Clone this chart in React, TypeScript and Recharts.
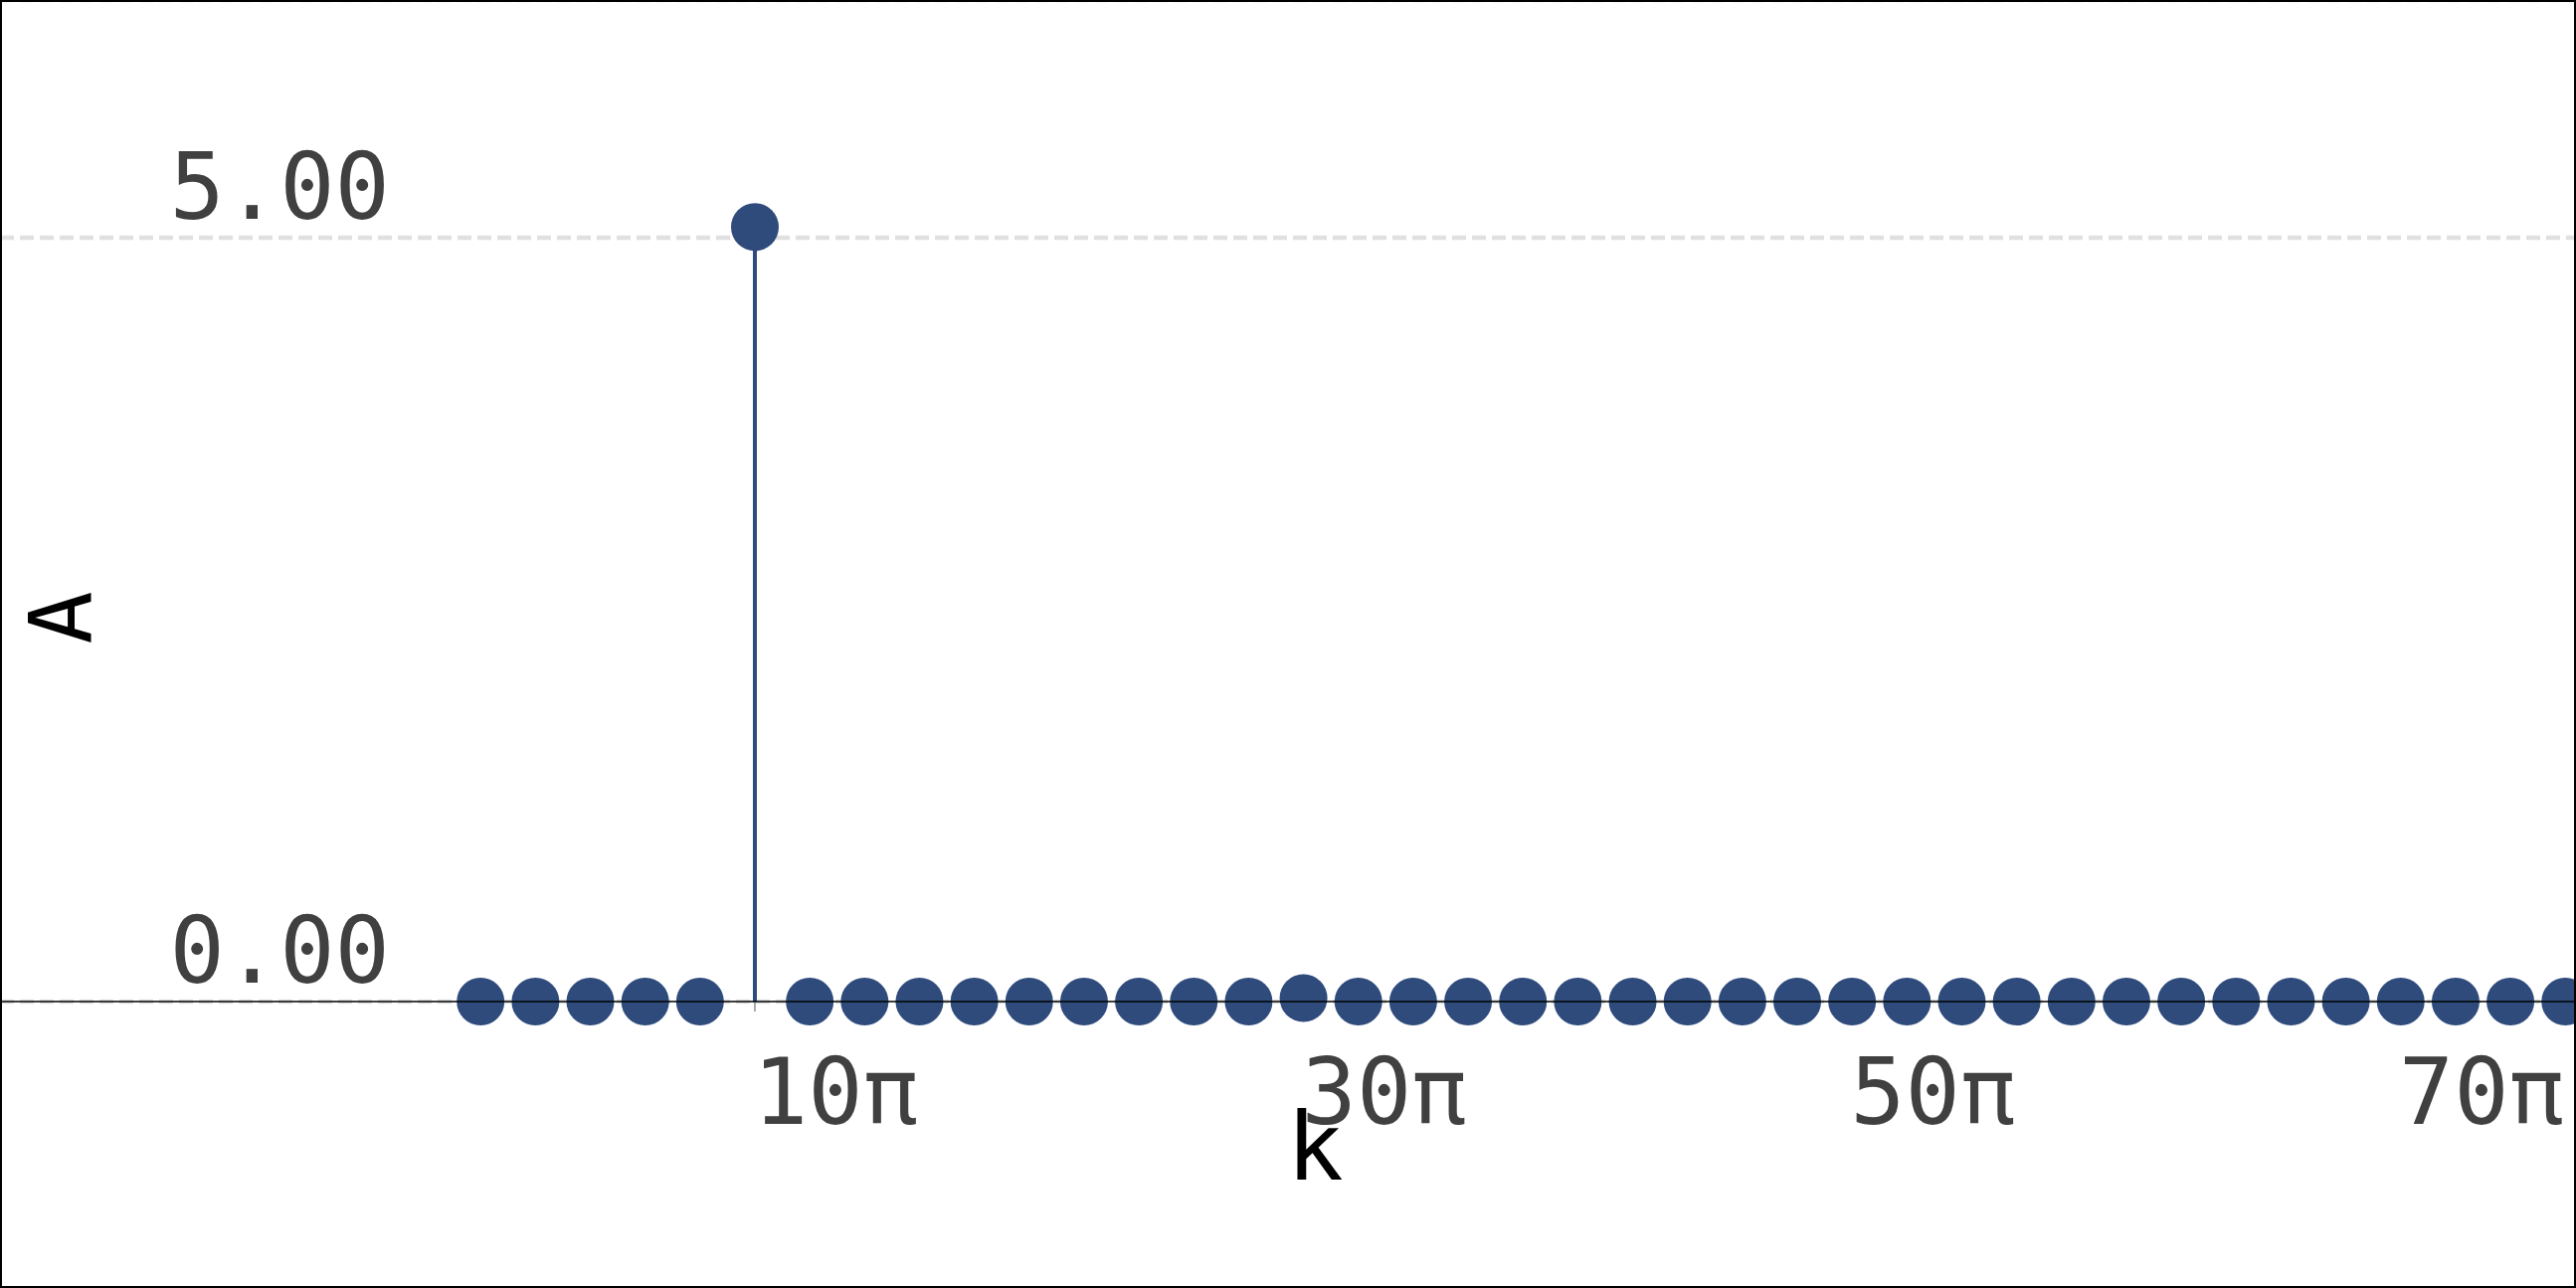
import { CartesianGrid, ReferenceLine, Scatter, ScatterChart, XAxis, YAxis } from "recharts";

// k in units of π
const kValues = [0, 2, 4, 6, 8, 10, 12, 14, 16, 18, 20, 22, 24, 26, 28, 30, 32, 34, 36, 38, 40, 42, 44, 46, 48, 50, 52, 54, 56, 58, 60, 62, 64, 66, 68, 70, 72, 74, 76];
const amplitudes = [0, 0, 0, 0, 0, 5.07, 0, 0, 0, 0, 0, 0, 0, 0, 0, 0.023, 0, 0, 0, 0, 0, 0, 0, 0, 0, 0, 0, 0, 0, 0, 0, 0, 0, 0, 0, 0, 0, 0, 0];
const xTicks = [10, 30, 50, 70];
const yTicks = [0, 5];
const xDomain = [-17.52, 76.39];

const points = kValues.map((k, i) => ({ k, a: amplitudes[i] }));
const stems = points.filter(p => p.a !== 0);
const zeroLine = xDomain.map(k => ({ k, a: 0 }));

const color = "#2f4b7c";
const mono = "DejaVu Sans Mono";

const XTick = ({ x, y, payload }: any) => (
  <text x={x - 2} y={y + 113} textAnchor="start" fontFamily={mono} fontSize={92} fill="#404040">{payload.value}π</text>
);

const YTick = ({ y, payload }: any) => (
  <text x={392} y={y - 19} textAnchor="end" fontFamily={mono} fontSize={92} fill="#404040">{Number(payload.value).toFixed(2)}</text>
);

const XLabel = () => (
  <text x={1322} y={1186} textAnchor="middle" fontFamily={mono} fontSize={95} fill="#000">k</text>
);

const YLabel = () => (
  <text x={92} y={621} transform="rotate(-90 92 621)" textAnchor="middle" fontFamily={mono} fontSize={88} fill="#000">A</text>
);

const Dot = (p: any) => <circle cx={p.cx} cy={p.cy} r={24} fill={color} />;
const NoDot = () => <g />;

export default function App() {
  return (
    <div style={{ position: "absolute", left: 0, top: 0, width: 2590, height: 1295, background: "#fff" }}>
      <ScatterChart width={2590} height={1295} margin={{ top: 0, right: 0, bottom: 0, left: 0 }}>
        <CartesianGrid vertical={false} stroke="#e0e0e0" strokeWidth={4.5} strokeDasharray="14 6" />
        <XAxis
          type="number" dataKey="k" domain={xDomain} ticks={xTicks} height={288}
          axisLine={false} tickLine={{ stroke: "#555", strokeWidth: 1 }}
          tickSize={10} tickMargin={0} tick={<XTick />} label={<XLabel />}
        />
        <YAxis
          type="number" dataKey="a" domain={[0, 6.556]} ticks={yTicks} width={60} mirror
          axisLine={false} tickLine={false} tick={<YTick />} label={<YLabel />}
        />
        {stems.map(s => (
          <ReferenceLine key={s.k} segment={[{ x: s.k, y: 0 }, { x: s.k, y: s.a }]} stroke={color} strokeWidth={4} />
        ))}
        <Scatter data={points} fill={color} shape={<Dot />} isAnimationActive={false} />
        <Scatter data={zeroLine} line={{ stroke: "#000", strokeWidth: 1.7 }} shape={<NoDot />} isAnimationActive={false} />
      </ScatterChart>
      <div style={{ position: "absolute", inset: 0, border: "2px solid #000", boxSizing: "border-box", pointerEvents: "none" }} />
    </div>
  );
}
